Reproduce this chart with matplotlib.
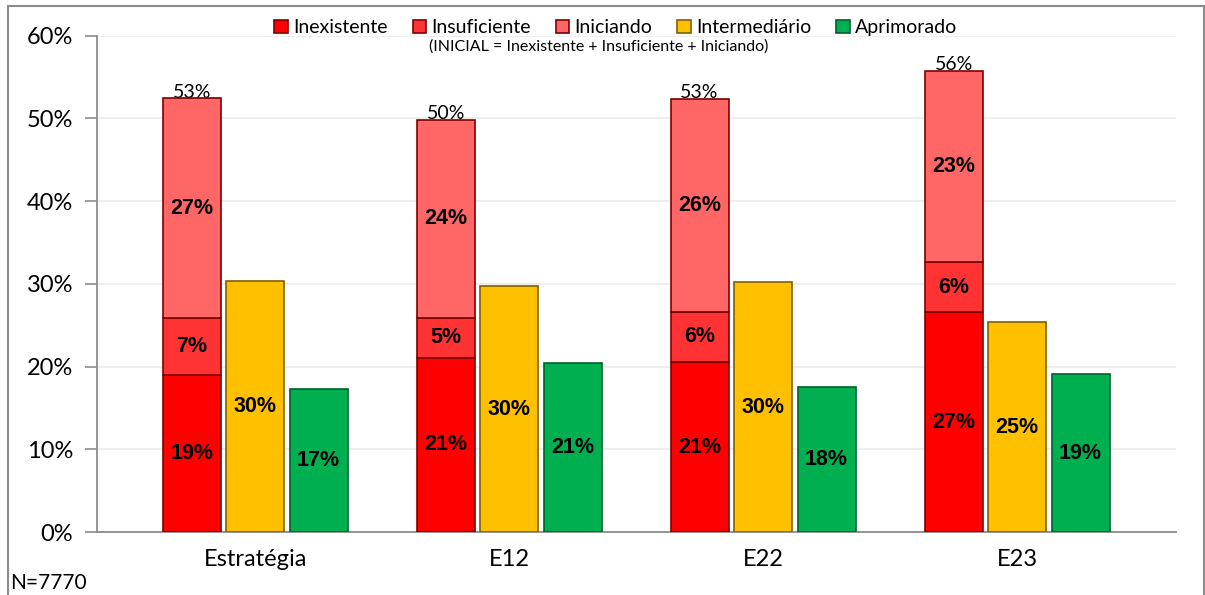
import matplotlib
matplotlib.use("Agg")
import matplotlib.pyplot as plt
from matplotlib.patches import Patch, Rectangle
import numpy as np

categories = ["Estratégia", "E12", "E22", "E23"]
inexistente = [19.0, 21.1, 20.6, 26.6]
insuficiente = [6.9, 4.8, 6.0, 6.0]
iniciando = [26.5, 23.9, 25.7, 23.1]
intermediario = [30.3, 29.7, 30.2, 25.4]
aprimorado = [17.3, 20.4, 17.6, 19.1]

lbl_inex = ["19%", "21%", "21%", "27%"]
lbl_insu = ["7%", "5%", "6%", "6%"]
lbl_inic = ["27%", "24%", "26%", "23%"]
lbl_inter = ["30%", "30%", "30%", "25%"]
lbl_apri = ["17%", "21%", "18%", "19%"]
lbl_total = ["53%", "50%", "53%", "56%"]

series_names = ["Inexistente", "Insuficiente", "Iniciando", "Intermediário", "Aprimorado"]
colors = ["#FF0000", "#FF3333", "#FF6666", "#FFC000", "#00B050"]
edges = ["#7F0000", "#7F0000", "#7F0000", "#7F6000", "#00602B"]

yticks = [0, 10, 20, 30, 40, 50, 60]
ytick_labels = ["0%", "10%", "20%", "30%", "40%", "50%", "60%"]

tick_font = "Lato"
bold_font = "Liberation Sans"

fig = plt.figure(figsize=(12.05, 5.95), dpi=100)
ax = fig.add_axes([0.0802, 0.1054, 0.976 - 0.0802, 0.9403 - 0.1054])

x = np.arange(len(categories))
w = 0.228
off = 0.25

inex = np.array(inexistente)
insu = np.array(insuficiente)
inic = np.array(iniciando)

ax.bar(x - off, inex, w, color=colors[0], edgecolor=edges[0], linewidth=1.2, zorder=3)
ax.bar(x - off, insu, w, bottom=inex, color=colors[1], edgecolor=edges[1], linewidth=1.2, zorder=3)
ax.bar(x - off, inic, w, bottom=inex + insu, color=colors[2], edgecolor=edges[2], linewidth=1.2, zorder=3)
ax.bar(x, intermediario, w, color=colors[3], edgecolor=edges[3], linewidth=1.2, zorder=3)
ax.bar(x + off, aprimorado, w, color=colors[4], edgecolor=edges[4], linewidth=1.2, zorder=3)

fs_in = 15.5
for i in range(len(categories)):
    ax.text(x[i] - off, inex[i] / 2, lbl_inex[i], ha="center", va="center",
            fontsize=fs_in, fontweight="bold", family=bold_font, zorder=4)
    ax.text(x[i] - off, inex[i] + insu[i] / 2, lbl_insu[i], ha="center", va="center",
            fontsize=fs_in, fontweight="bold", family=bold_font, zorder=4)
    ax.text(x[i] - off, inex[i] + insu[i] + inic[i] / 2, lbl_inic[i], ha="center", va="center",
            fontsize=fs_in, fontweight="bold", family=bold_font, zorder=4)
    ax.text(x[i], intermediario[i] / 2, lbl_inter[i], ha="center", va="center",
            fontsize=fs_in, fontweight="bold", family=bold_font, zorder=4)
    ax.text(x[i] + off, aprimorado[i] / 2, lbl_apri[i], ha="center", va="center",
            fontsize=fs_in, fontweight="bold", family=bold_font, zorder=4)
    total = inex[i] + insu[i] + inic[i]
    ax.text(x[i] - off, total + 0.1, lbl_total[i], ha="center", va="baseline",
            fontsize=14, family=tick_font, zorder=2)

ax.set_xlim(-158.5 / 254, 3 + 159 / 254)
ax.set_ylim(0, 60)
ax.set_yticks(yticks)
ax.set_yticklabels(ytick_labels, family=tick_font, fontsize=17)
ax.set_xticks(x)
ax.set_xticklabels(categories, family=tick_font, fontsize=17)
ax.tick_params(axis="x", length=0, pad=12)
ax.tick_params(axis="y", length=9, color="#8C8C8C", width=1.2, pad=8)

ax.yaxis.grid(True, color="#EBEBEB", linewidth=1.2, zorder=0)
ax.set_axisbelow(True)
for s in ["top", "right"]:
    ax.spines[s].set_visible(False)
for s in ["left", "bottom"]:
    ax.spines[s].set_color("#8C8C8C")
    ax.spines[s].set_linewidth(1.3)

handles = [Patch(facecolor=c, edgecolor=e, linewidth=1.2) for c, e in zip(colors, edges)]
fig.legend(handles, series_names, loc="center", bbox_to_anchor=(0.511, 0.953), ncol=5,
           frameon=False, prop={"family": tick_font, "size": 14},
           handlelength=0.7, handleheight=0.7, handletextpad=0.25, columnspacing=1.3)

fig.text(0.497, 0.922, "(INICIAL = Inexistente + Insuficiente + Iniciando)", ha="center", va="center",
         fontsize=11.5, family=tick_font)
fig.text(0.008, 0.02, "N=7770", ha="left", va="center", fontsize=15, family=tick_font)

# outer frame
fig.patches.append(Rectangle((8 / 1205, -0.01), (1204 - 8) / 1205, 1 - 6 / 595 + 0.01,
                             transform=fig.transFigure, fill=False, edgecolor="#8C8C8C",
                             linewidth=1.5, zorder=0))

fig.savefig("out.png", dpi=100)
